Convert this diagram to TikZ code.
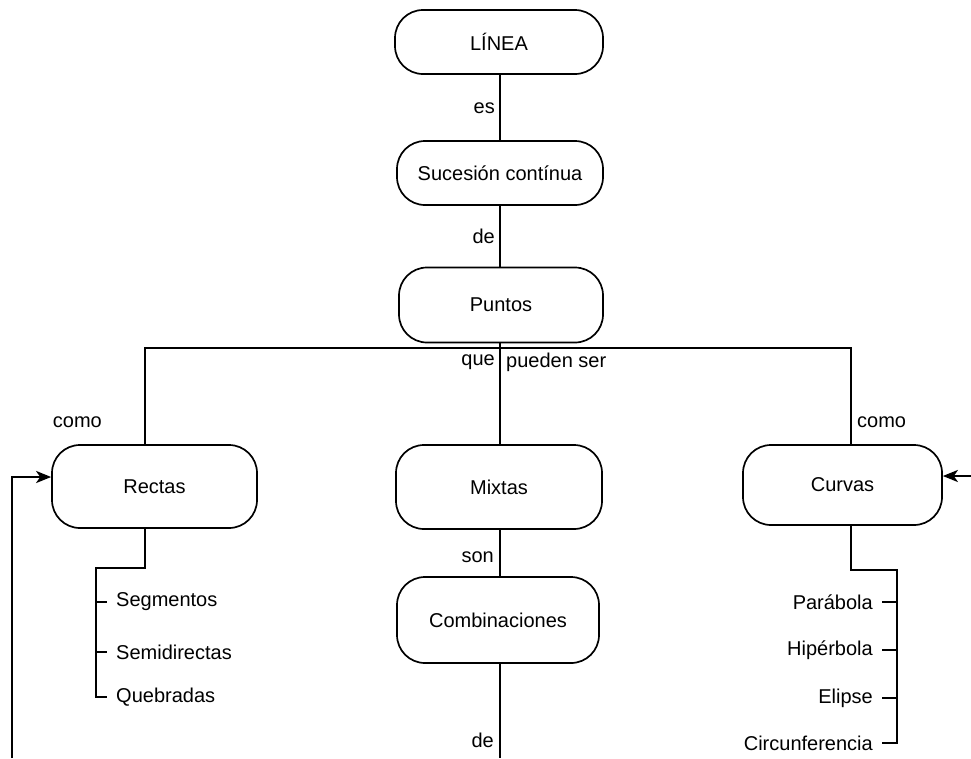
\documentclass[tikz,border=0pt]{standalone}
\usepackage{fontspec}
\setmainfont{Liberation Sans}
\usetikzlibrary{arrows.meta}
\begin{document}
\begin{tikzpicture}[x=1pt,y=-1pt,
  every node/.style={font=\fontsize{20}{24}\selectfont},
  box/.style={draw, line width=1.7pt, rounded corners=28pt, inner sep=0pt},
  lbl/.style={inner sep=0pt},
  conn/.style={line width=2.2pt},
  arr/.style={line width=2.2pt, -{Stealth[length=15pt,width=12pt,inset=4pt]}}]
\useasboundingbox (0,0) rectangle (971,758);

% main column
\node[box, minimum width=208pt, minimum height=64pt] (linea) at (499,42) {LÍNEA};
\node[box, minimum width=206pt, minimum height=64pt] (suc) at (500,173) {Sucesión contínua};
\node[box, minimum width=204pt, minimum height=75pt] (puntos) at (501,305) {Puntos};
\node[box, minimum width=205pt, minimum height=83pt] (rectas) at (154.5,486.5) {Rectas};
\node[box, minimum width=206pt, minimum height=84pt] (mixtas) at (499,487) {Mixtas};
\node[box, minimum width=199pt, minimum height=80pt] (curvas) at (842.5,485) {Curvas};
\node[box, minimum width=202pt, minimum height=86pt] (comb) at (498,620) {Combinaciones};

\coordinate (mx) at (500,0);
\coordinate (lt) at (145,348);
\coordinate (rt) at (851,348);
\coordinate (bot) at (500,758);

\draw[conn] (mx |- linea.south) -- (mx |- suc.north);
\draw[conn] (mx |- suc.south) -- (mx |- puntos.north);
\draw[conn] (mx |- puntos.south) -- (mx |- mixtas.north);
\draw[conn] (mx |- mixtas.south) -- (mx |- comb.north);
\draw[conn] (mx |- comb.south) -- (bot);
\draw[conn] (lt |- rectas.north) -- (lt) -- (rt) -- (rt |- curvas.north);

% labels
\node[lbl, anchor=east] at (495,108) {es};
\node[lbl, anchor=east] at (495,236) {de};
\node[lbl, anchor=east] at (495,362) {que};
\node[lbl, anchor=west] at (506,362) {pueden ser};
\node[lbl, anchor=east] at (102,422) {como};
\node[lbl, anchor=west] at (857,422) {como};
\node[lbl, anchor=east] at (494,557) {son};
\node[lbl, anchor=east] at (494,740) {de};

% Rectas bracket
\coordinate (rl1) at (145,568);
\coordinate (rl2) at (96,568);
\node[lbl, anchor=west] (seg) at (116,602) {Segmentos};
\node[lbl, anchor=west] (semi) at (116,652) {Semidirectas};
\node[lbl, anchor=west] (queb) at (116,697) {Quebradas};
\draw[conn] (lt |- rectas.south) -- (rl1) -- (rl2) -- (rl2 |- queb.west) -- ([xshift=-9pt]queb.west);
\draw[conn] (rl2 |- seg.west) -- ([xshift=-9pt]seg.west);
\draw[conn] (rl2 |- semi.west) -- ([xshift=-9pt]semi.west);

% Curvas bracket
\coordinate (cr1) at (851,570);
\coordinate (cr2) at (897,570);
\node[lbl, anchor=east] (para) at (873,602) {Parábola};
\node[lbl, anchor=east] (hipe) at (873,650) {Hipérbola};
\node[lbl, anchor=east] (elip) at (873,698) {Elipse};
\node[lbl, anchor=east] (circ) at (873,743) {Circunferencia};
\draw[conn] (rt |- curvas.south) -- (cr1) -- (cr2) -- (cr2 |- circ.east) -- ([xshift=9pt]circ.east);
\draw[conn] (cr2 |- para.east) -- ([xshift=9pt]para.east);
\draw[conn] (cr2 |- hipe.east) -- ([xshift=9pt]hipe.east);
\draw[conn] (cr2 |- elip.east) -- ([xshift=9pt]elip.east);

% side arrows
\coordinate (la0) at (12,758);
\coordinate (la1) at (12,477);
\draw[arr] (la0) -- (la1) -- (la1 -| rectas.west);
\coordinate (ra0) at (971,476);
\draw[arr] (ra0) -- (ra0 -| curvas.east);
\end{tikzpicture}
\end{document}
